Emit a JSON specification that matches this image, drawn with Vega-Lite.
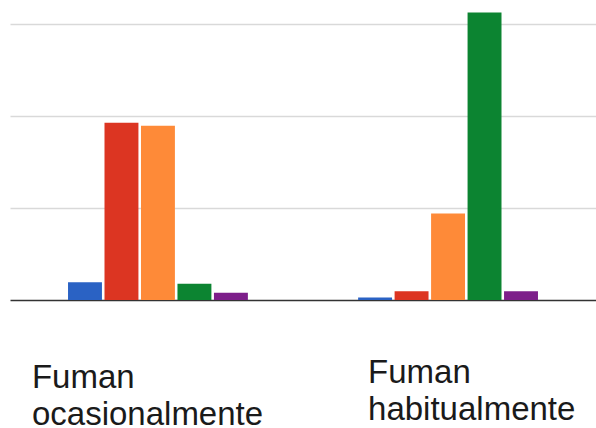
{
  "$schema": "https://vega.github.io/schema/vega-lite/v6.json",
  "width": 586,
  "height": 300,
  "autosize": {"type": "none"},
  "padding": {"left": 10, "top": 0, "right": 0, "bottom": 128},
  "background": "white",
  "data": {
    "values": [
      {"grupo": "Fuman ocasionalmente", "serie": "A", "valor": 1.94},
      {"grupo": "Fuman ocasionalmente", "serie": "B", "valor": 19.26},
      {"grupo": "Fuman ocasionalmente", "serie": "C", "valor": 18.93},
      {"grupo": "Fuman ocasionalmente", "serie": "D", "valor": 1.76},
      {"grupo": "Fuman ocasionalmente", "serie": "E", "valor": 0.78},
      {"grupo": "Fuman habitualmente", "serie": "A", "valor": 0.26},
      {"grupo": "Fuman habitualmente", "serie": "B", "valor": 0.96},
      {"grupo": "Fuman habitualmente", "serie": "C", "valor": 9.39},
      {"grupo": "Fuman habitualmente", "serie": "D", "valor": 31.24},
      {"grupo": "Fuman habitualmente", "serie": "E", "valor": 0.96}
    ]
  },
  "config": {"view": {"stroke": null}},
  "mark": {"type": "bar"},
  "encoding": {
    "x": {
      "field": "grupo",
      "type": "nominal",
      "sort": ["Fuman ocasionalmente", "Fuman habitualmente"],
      "scale": {"paddingInner": 0.38, "paddingOuter": 0.2},
      "axis": {
        "title": null,
        "ticks": false,
        "domain": true,
        "domainColor": "#333333",
        "domainWidth": 1.5,
        "labelExpr": "split(datum.label, ' ')",
        "labelFont": "Liberation Sans",
        "labelFontSize": 33,
        "labelColor": "#1a1a1a",
        "labelLineHeight": 37,
        "labelAlign": "left",
        "labelBaseline": "alphabetic",
        "labelLimit": 0,
        "labelOverlap": false,
        "labelBound": false,
        "labelAngle": 0,
        "labelOffset": {"condition": {"test": "datum.value === 'Fuman ocasionalmente'", "value": -126}, "value": -80},
        "labelPadding": {"condition": {"test": "datum.value === 'Fuman ocasionalmente'", "value": 87}, "value": 82}
      }
    },
    "xOffset": {
      "field": "serie",
      "type": "nominal",
      "scale": {"paddingInner": 0.07, "paddingOuter": 0}
    },
    "y": {
      "field": "valor",
      "type": "quantitative",
      "scale": {"domain": [0, 32.6], "nice": false},
      "axis": {
        "title": null,
        "labels": false,
        "ticks": false,
        "domain": false,
        "values": [10, 20, 30],
        "grid": true,
        "gridColor": "#d9d9d9",
        "gridWidth": 1.5
      }
    },
    "color": {
      "field": "serie",
      "type": "nominal",
      "legend": null,
      "scale": {
        "domain": ["A", "B", "C", "D", "E"],
        "range": ["#2a62c4", "#dc3522", "#fe8a38", "#0c8431", "#7d1f8a"]
      }
    }
  }
}
